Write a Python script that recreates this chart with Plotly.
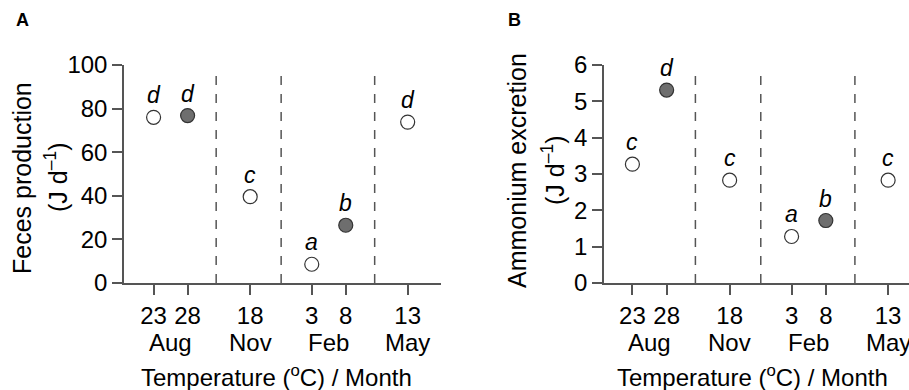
import plotly.graph_objects as go

# ---- data ----
temps = ["23", "28", "18", "3", "8", "13"]
months = ["Aug", "Nov", "Feb", "May"]
feces = [76.0, 76.8, 39.6, 8.6, 26.5, 73.8]
feces_letters = ["d", "d", "c", "a", "b", "d"]
ammonium = [3.27, 5.31, 2.83, 1.28, 1.72, 2.83]
ammonium_letters = ["c", "d", "c", "a", "b", "c"]
filled = [False, True, False, False, True, False]

# ---- layout helpers (positions) ----
x_pos = [0, 1, 2.84, 4.65, 5.65, 7.47]
month_pos = [0.5, 2.84, 5.15, 7.47]
divider_pos = [1.84, 3.75, 6.50]

W, H = 909, 390
top, bottom = 65, 283
ph = bottom - top
FONT = "Liberation Sans, Arial, sans-serif"
AX = "#555555"
FS = 24

fig = go.Figure()

panels = [
    dict(vals=feces, letters=feces_letters, xa="x", ya="y", ymax=100, dtick=20,
         dom=[124 / W, 441 / W], xr=[-0.87, 8.45], dash_top=97.7,
         titles=["Feces production", "(J d<sup>–1</sup>)"], tx=[22, 56], ty=178,
         label="A", lx=22, xt=3.6),
    dict(vals=ammonium, letters=ammonium_letters, xa="x2", ya="y2", ymax=6, dtick=1,
         dom=[604 / W, 1.0], xr=[-0.83, 8.08], dash_top=5.92,
         titles=["Ammonium excretion", "(J d<sup>–1</sup>)"], tx=[517, 553], ty=171,
         label="B", lx=514, xt=3.5),
]

for i, p in enumerate(panels):
    colors = ["#6e6e6e" if f else "white" for f in filled]
    fig.add_trace(go.Scatter(
        x=x_pos, y=p["vals"], mode="markers", xaxis=p["xa"], yaxis=p["ya"],
        marker=dict(size=14, color=colors, line=dict(color="#333333", width=1.2)),
        showlegend=False, cliponaxis=False))
    for xv, yv, t in zip(x_pos, p["vals"], p["letters"]):
        fig.add_annotation(x=xv, y=yv, xref=p["xa"], yref=p["ya"], text=f"<i>{t}</i>",
                           showarrow=False, yshift=22, font=dict(size=23, family=FONT, color="black"))
    for d in divider_pos:
        fig.add_shape(type="line", x0=d, x1=d, y0=0, y1=p["dash_top"], xref=p["xa"], yref=p["ya"],
                      line=dict(color=AX, width=1.5, dash="dash"))
    for m, mp in zip(months, month_pos):
        fig.add_annotation(x=mp, y=-(342 - bottom) / ph, xref=p["xa"], yref="paper", text=m,
                           showarrow=False, yanchor="middle", font=dict(size=FS, family=FONT, color="black"))
    fig.add_annotation(x=p["xt"], y=-(376 - bottom) / ph,
                       xref=p["xa"], yref="paper", text="Temperature (<sup>o</sup>C) / Month",
                       showarrow=False, yanchor="middle", font=dict(size=FS, family=FONT, color="black"))
    for tx, tt in zip(p["tx"], p["titles"]):
        fig.add_annotation(x=tx / W, y=1 - (p["ty"] - top) / ph, xref="paper", yref="paper", text=tt,
                           textangle=-90, showarrow=False, xanchor="center", yanchor="middle",
                           font=dict(size=25, family=FONT, color="black"))
    fig.add_annotation(x=p["lx"] / W, y=1 + (top - 20) / ph, xref="paper", yref="paper",
                       text=f"<b>{p['label']}</b>", showarrow=False, xanchor="center", yanchor="middle",
                       font=dict(size=18, family=FONT, color="black"))

    xk = "xaxis" if i == 0 else "xaxis2"
    yk = "yaxis" if i == 0 else "yaxis2"
    fig.update_layout(**{
        xk: dict(domain=p["dom"], range=p["xr"], anchor=p["ya"], tickvals=x_pos, ticktext=temps,
                 showline=True, linecolor=AX, linewidth=1.5, ticks="outside", ticklen=10,
                 tickcolor=AX, tickwidth=1.5, showgrid=False, zeroline=False,
                 tickfont=dict(size=FS, family=FONT, color="black")),
        yk: dict(domain=[0, 1], range=[0, p["ymax"]], anchor=p["xa"], dtick=p["dtick"],
                 showline=True, linecolor=AX, linewidth=1.5, ticks="outside", ticklen=10,
                 tickcolor=AX, tickwidth=1.5, showgrid=False, zeroline=False,
                 tickfont=dict(size=FS, family=FONT, color="black")),
    })

fig.update_layout(width=W, height=H, margin=dict(l=0, r=0, t=top, b=H - bottom),
                  plot_bgcolor="white", paper_bgcolor="white", showlegend=False)

fig.write_html("out.html")
